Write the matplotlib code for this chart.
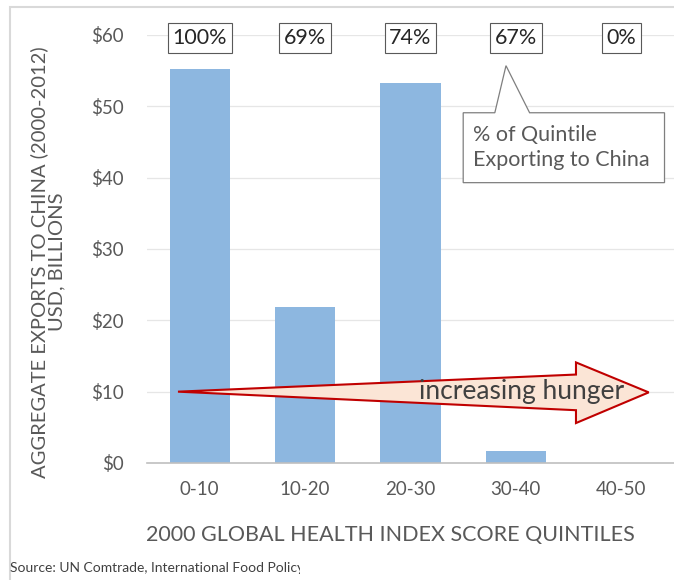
import matplotlib.pyplot as plt
from matplotlib.patches import Polygon, Rectangle
from matplotlib.transforms import Bbox, TransformedBbox

plt.rcParams['font.family'] = ['Lato', 'DejaVu Sans']

quintiles = ['0-10', '10-20', '20-30', '30-40', '40-50']
exports = [55.3, 21.9, 53.3, 1.7, 0.0]
share_exporting = ['100%', '69%', '74%', '67%', '0%']
y_ticks = [0, 10, 20, 30, 40, 50, 60]

gray = '#595959'

fig = plt.figure(figsize=(6.74, 5.8), dpi=100)
ax = fig.add_axes([147 / 674, 1 - 463 / 580, 527 / 674, 428 / 580])

x = list(range(len(quintiles)))
ax.bar(x, exports, width=0.57, color='#8DB7E0', zorder=2)

ax.set_xlim(-0.5, 4.5)
ax.set_ylim(0, 60)
ax.set_yticks(y_ticks)
ax.set_yticklabels(['$' + str(v) for v in y_ticks])
ax.set_xticks(x)
ax.set_xticklabels(quintiles)
ax.tick_params(axis='both', length=0, labelcolor=gray, labelsize=13.5)
ax.tick_params(axis='y', pad=17)
ax.tick_params(axis='x', pad=13)
ax.grid(axis='y', color='#E6E6E6', linewidth=0.9, zorder=0)
for s in ['top', 'right', 'left']:
    ax.spines[s].set_visible(False)
ax.spines['bottom'].set_color('#BFBFBF')
ax.spines['bottom'].set_linewidth(1.2)
ax.spines['bottom'].set_zorder(3)

# percent boxes on top
for xi, lab in zip(x, share_exporting):
    ax.text(xi, 59.6, lab, ha='center', va='center', fontsize=15.5, color='#262626',
            clip_on=False, zorder=5,
            bbox=dict(boxstyle='square,pad=0.22', fc='white', ec='#595959', lw=0.8))

# callout
callout = [(2.5, 49.1), (2.80, 49.1), (2.906, 55.7), (3.13, 49.1), (4.41, 49.1),
           (4.41, 39.3), (2.5, 39.3)]
ax.add_patch(Polygon(callout, closed=True, fc='white', ec='#7F7F7F', lw=0.9, zorder=4))
ax.text(2.59, 44.2, '% of Quintile\nExporting to China', ha='left', va='center',
        fontsize=15.5, color=gray, linespacing=1.3, zorder=5)

# increasing hunger arrow
arrow = [(-0.206, 10.0), (3.57, 12.4), (3.57, 14.1), (4.26, 9.9), (3.57, 5.6),
         (3.57, 7.4)]
ax.add_patch(Polygon(arrow, closed=True, fc='#FBE5D6', ec='#C00000', lw=1.5, zorder=4))
ax.text(3.05, 10.0, 'increasing hunger', ha='center', va='center', fontsize=19,
        color='#404040', zorder=5)

fig.text(48 / 674, 1 - 262 / 580, 'AGGREGATE EXPORTS TO CHINA (2000-2012)\nUSD, BILLIONS',
         rotation=90, ha='center', va='center', multialignment='center',
         fontsize=14.5, color=gray, linespacing=1.05)
fig.text(390 / 674, 1 - 535 / 580, '2000 GLOBAL HEALTH INDEX SCORE QUINTILES',
         ha='center', va='center', fontsize=15.5, color=gray)
src = fig.text(10 / 674, 1 - 568 / 580, 'Source: UN Comtrade, International Food Policy',
               ha='left', va='center', fontsize=10, color='#404040')
# the source line is cut off in the original
src.set_clip_box(TransformedBbox(Bbox([[0, 0], [300 / 674, 1]]), fig.transFigure))
src.set_clip_on(True)

fig.patches.append(Rectangle((10 / 674, -0.05), 1.2, 1.05 - 7 / 580, transform=fig.transFigure,
                             fill=False, ec='#D9D9D9', lw=1.5, zorder=0))

fig.savefig('out.png', dpi=100)
